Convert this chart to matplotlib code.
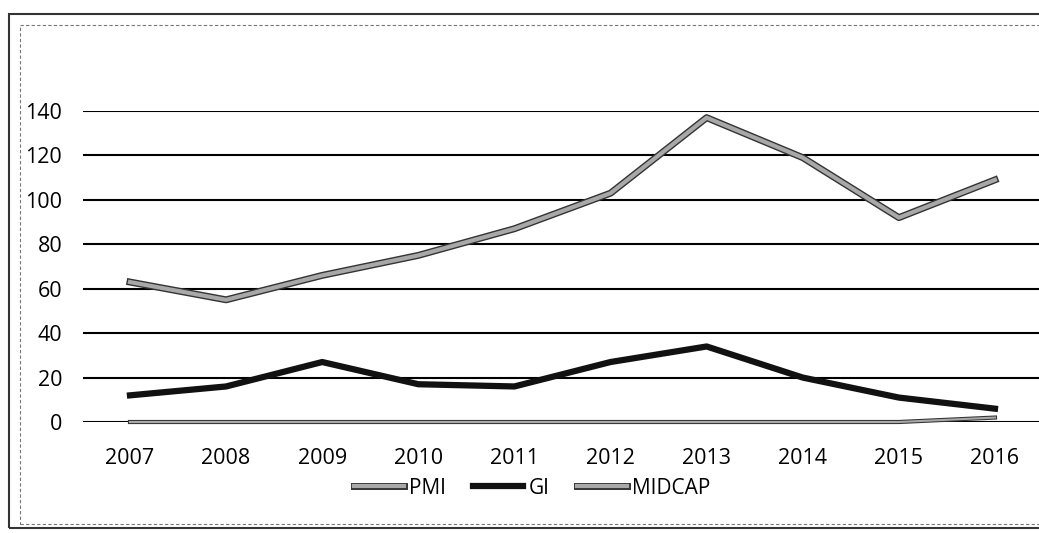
import matplotlib.pyplot as plt
import matplotlib.patheffects as pe
from matplotlib.patches import Rectangle

years = ['2007', '2008', '2009', '2010', '2011', '2012', '2013', '2014', '2015', '2016']
pmi = [63, 55, 66, 75, 87, 103, 137, 119, 92, 109]
gi = [12, 16, 27, 17, 16, 27, 34, 20, 11, 6]
midcap = [0, 0, 0, 0, 0, 0, 0, 0, 0, 2]
yticks = [0, 20, 40, 60, 80, 100, 120, 140]

plt.rcParams['font.family'] = ['Open Sans', 'DejaVu Sans']

W, H = 1039, 533
fig = plt.figure(figsize=(W / 100, H / 100), dpi=100)

# outer frame and dashed chart frame
fig.patches.append(Rectangle((9 / W, 5 / H), 1.2, (H - 19) / H, transform=fig.transFigure,
                             fill=False, ec='#333333', lw=1.5))
fig.patches.append(Rectangle((20 / W, 9 / H), 1.2, (H - 34) / H, transform=fig.transFigure,
                             fill=False, ec='#777777', lw=0.8, ls=(0, (3, 2))))

ax = fig.add_axes([83 / W, 1 - 422 / H, (W - 83) / W, (422 - 111) / H])
x = list(range(len(years)))

gray = [pe.Stroke(linewidth=5, foreground='#333333'), pe.Normal()]
ax.plot(x, pmi, color='#a8a8a8', lw=3, path_effects=gray, label='PMI', zorder=3)
ax.plot(x, gi, color='#111111', lw=4.5, label='GI', zorder=3)
ax.plot(x, midcap, color='#a8a8a8', lw=1.5,
        path_effects=[pe.Stroke(linewidth=3, foreground='#333333'), pe.Normal()],
        label='MIDCAP', zorder=3, clip_on=False)

ax.set_xlim(-0.489, 9.458)
ax.set_ylim(0, 140)
ax.set_yticks(yticks)
ax.set_xticks(x)
ax.set_xticklabels(years)
ax.yaxis.grid(True, color='black', lw=1.5)
ax.set_axisbelow(True)
for s in ax.spines.values():
    s.set_visible(False)
ax.tick_params(length=0, labelsize=15.5)
ax.tick_params(axis='y', pad=15)
ax.tick_params(axis='x', pad=19)

leg = fig.legend(loc='center', bbox_to_anchor=(532 / W, 1 - 488 / H), ncol=3, frameon=False,
                 fontsize=15, handlelength=2.4, handletextpad=0.25, columnspacing=1.3)
leg.get_lines()[2].set_linewidth(3)
leg.get_lines()[2].set_path_effects(gray)

fig.savefig('out.png', dpi=100)
